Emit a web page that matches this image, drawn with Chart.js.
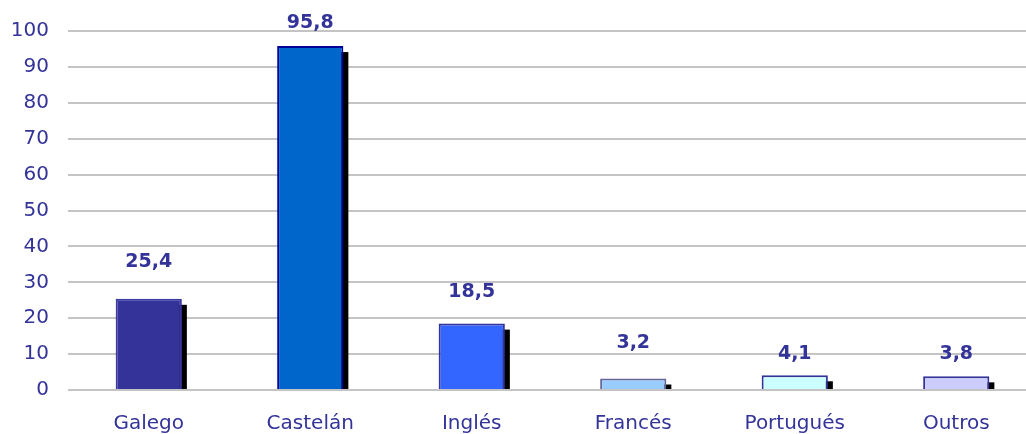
<!DOCTYPE html>
<html>
<head>
<meta charset="utf-8">
<script src="https://cdn.jsdelivr.net/npm/chart.js@4/dist/chart.umd.min.js"></script>
<style>
    html, body { margin: 0; padding: 0; background: #fff; overflow: hidden; }
    #wrap { width: 1040px; height: 434px; }
</style>
</head>
<body>
<div id="wrap"><canvas id="chart"></canvas></div>
<script>
    // Data
    var languages = ['Galego', 'Castelán', 'Inglés', 'Francés', 'Portugués', 'Outros'];
    var percentages = [25.4, 95.8, 18.5, 3.2, 4.1, 3.8];
    var yTicks = [0, 10, 20, 30, 40, 50, 60, 70, 80, 90, 100];

    var fillColors = ['#333399', '#0066CC', '#3366FF', '#99CCFF', '#CCFFFF', '#CCCCFF'];
    var edgeColors = ['#3a3aa0', '#000099', '#333399', '#666699', '#333399', '#333399'];
    // how far above the bar top each value label sits (px), as in the source
    var labelLift = [37, 23, 31.5, 35.5, 21.5, 22.5];

    var textColor = '#333399';

    /**
     * Black drop shadow behind each bar, offset right and down,
     * cut off at the zero line.
     */
    var barShadow = {
        id: 'barShadow',
        beforeDatasetsDraw: function(chart) {
            var ctx = chart.ctx;
            var meta = chart.getDatasetMeta(0);
            ctx.save();
            ctx.fillStyle = '#000';
            meta.data.forEach(function(bar) {
                var left = bar.x - bar.width / 2 + 5;
                var top = bar.y + 6;
                if (top < bar.base) {
                    ctx.fillRect(left, top, bar.width, bar.base - top);
                }
            });
            ctx.restore();
        }
    };

    /**
     * Bold value labels above the bars, with a decimal comma.
     */
    var valueLabels = {
        id: 'valueLabels',
        afterDatasetsDraw: function(chart) {
            var ctx = chart.ctx;
            var meta = chart.getDatasetMeta(0);
            ctx.save();
            ctx.fillStyle = textColor;
            ctx.font = 'bold 19px "DejaVu Sans", Verdana, sans-serif';
            ctx.textAlign = 'center';
            ctx.textBaseline = 'middle';
            meta.data.forEach(function(bar, i) {
                var txt = percentages[i].toFixed(1).replace('.', ',');
                ctx.fillText(txt, bar.x, bar.y - labelLift[i]);
            });
            ctx.restore();
        }
    };

    new Chart(document.getElementById('chart').getContext('2d'), {
        type: 'bar',
        data: {
            labels: languages,
            datasets: [{
                data: percentages,
                backgroundColor: fillColors,
                borderColor: edgeColors,
                borderWidth: 2,
                barPercentage: 0.41,
                categoryPercentage: 1.0
            }]
        },
        options: {
            responsive: true,
            maintainAspectRatio: false,
            animation: false,
            layout: { padding: { top: 21, right: 3, bottom: 0, left: 0 } },
            plugins: {
                legend: { display: false },
                tooltip: { enabled: false }
            },
            scales: {
                x: {
                    afterFit: function(scale) { scale.height = 44; },
                    grid: { display: false },
                    border: { display: false },
                    ticks: {
                        color: textColor,
                        padding: 14,
                        maxRotation: 0,
                        font: { family: '"DejaVu Sans", Verdana, sans-serif', size: 20 }
                    }
                },
                y: {
                    min: 0,
                    max: 100,
                    afterBuildTicks: function(scale) {
                        scale.ticks = yTicks.map(function(v) { return { value: v }; });
                    },
                    afterFit: function(scale) { scale.width = 68; },
                    grid: { color: '#c4c4c4', lineWidth: 2, drawTicks: false },
                    border: { display: false },
                    ticks: {
                        color: textColor,
                        padding: 19,
                        font: { family: '"DejaVu Sans", Verdana, sans-serif', size: 20 }
                    }
                }
            }
        },
        plugins: [barShadow, valueLabels]
    });
</script>
</body>
</html>
